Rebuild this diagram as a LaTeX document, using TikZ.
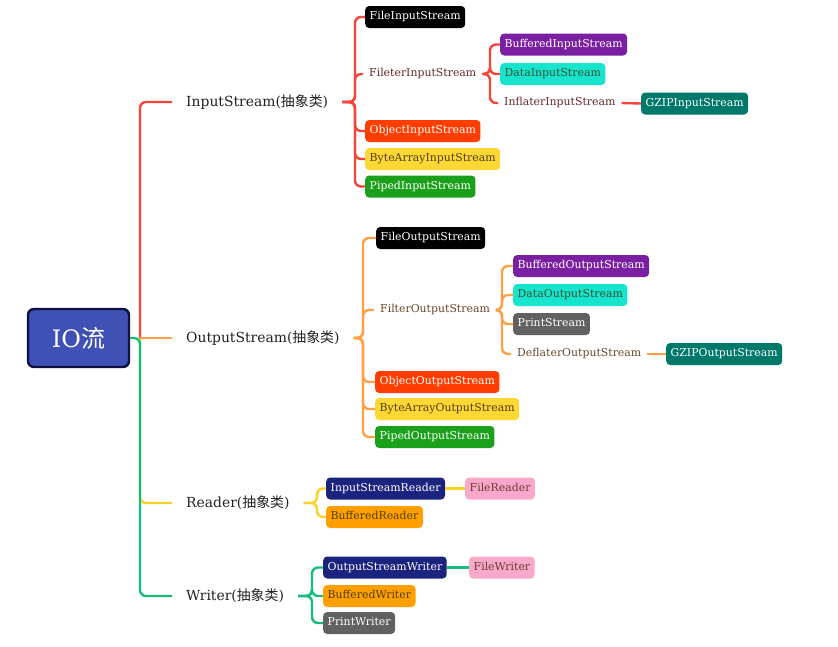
\documentclass[tikz,border=0pt]{standalone}
\usepackage{fontspec}
\setmainfont{DejaVu Serif}
\newfontfamily\cjk{Noto Sans CJK SC}
\usetikzlibrary{positioning}

\definecolor{RootFill}{RGB}{63, 81, 181}
\definecolor{RootLine}{RGB}{13, 17, 64}
\definecolor{InRed}{RGB}{245, 68, 58}
\definecolor{OutOrange}{RGB}{255, 160, 70}
\definecolor{ReadYellow}{RGB}{250, 210, 40}
\definecolor{WriteGreen}{RGB}{20, 190, 120}
\definecolor{ObjRed}{RGB}{255, 61, 0}
\definecolor{ByteYellow}{RGB}{253, 216, 53}
\definecolor{PipeGreen}{RGB}{26, 160, 26}
\definecolor{BufPurple}{RGB}{123, 31, 162}
\definecolor{DataTurq}{RGB}{22, 228, 205}
\definecolor{ZipTeal}{RGB}{0, 121, 107}
\definecolor{PrintGray}{RGB}{97, 97, 97}
\definecolor{CharNavy}{RGB}{26, 35, 126}
\definecolor{FilePink}{RGB}{248, 168, 200}
\definecolor{BufAmber}{RGB}{255, 160, 0}
\definecolor{TopicText}{RGB}{34, 34, 34}
\definecolor{InText}{RGB}{105, 40, 40}
\definecolor{OutText}{RGB}{105, 72, 40}
\definecolor{DarkText}{RGB}{80, 62, 20}

\newcommand{\boxfont}{\fontsize{10.9}{12}\selectfont}
\newcommand{\topicfont}{\fontsize{13.9}{16}\selectfont}
\newcommand{\abstractcls}{({\cjk 抽象类})}

\tikzset{
  stream/.style={fill=#1, rounded corners=4pt, anchor=west, inner xsep=4.5pt, inner ysep=0pt,
    minimum height=22pt, text height=8pt, text depth=2.5pt, font=\boxfont, text=white},
  plainname/.style={anchor=west, inner xsep=6pt, inner ysep=2pt, text height=8pt, text depth=2.5pt,
    font=\boxfont, text=#1},
  topic/.style={anchor=west, inner xsep=14pt, inner ysep=2pt, font=\topicfont, text=TopicText},
  branch/.style={line width=2.4pt, rounded corners=6pt, draw=#1}
}

\begin{document}
\begin{tikzpicture}[x=1pt, y=-1pt]
    \useasboundingbox (0,0) rectangle (838,646);

    % root
    \node[draw=RootLine, line width=2.4pt, fill=RootFill, rounded corners=6pt,
          minimum width=101pt, minimum height=58pt, text=white,
          font=\fontsize{24}{28}\selectfont] (root) at (78.5,338) {IO{\cjk 流}};
    \coordinate (trunk) at (140,338);

    % abstract classes
    \node[topic] (ins) at (172,102) {InputStream\abstractcls};
    \node[topic] (outs) at (172,338) {OutputStream\abstractcls};
    \node[topic] (rd) at (172,503) {Reader\abstractcls};
    \node[topic] (wr) at (172,596) {Writer\abstractcls};

    % InputStream
    \node[stream=black] (fis) at (365,17) {FileInputStream};
    \node[plainname=InText] (fltis) at (363,74) {FileterInputStream};
    \node[stream=ObjRed] (ois) at (365,131) {ObjectInputStream};
    \node[stream=ByteYellow, text=DarkText] (bais) at (365,159) {ByteArrayInputStream};
    \node[stream=PipeGreen] (pis) at (365,186.5) {PipedInputStream};

    \node[stream=BufPurple] (bis) at (500,44.5) {BufferedInputStream};
    \node[stream=DataTurq, text=DarkText!70!teal] (dis) at (500,74) {DataInputStream};
    \node[plainname=InText] (iis) at (498,103) {InflaterInputStream};
    \node[stream=ZipTeal] (gzis) at (641,103.5) {GZIPInputStream};

    % OutputStream
    \node[stream=black] (fos) at (376,238) {FileOutputStream};
    \node[plainname=OutText] (fltos) at (374,310) {FilterOutputStream};
    \node[stream=ObjRed] (oos) at (375,382) {ObjectOutputStream};
    \node[stream=ByteYellow, text=DarkText] (baos) at (375,409) {ByteArrayOutputStream};
    \node[stream=PipeGreen] (pos) at (375,437) {PipedOutputStream};

    \node[stream=BufPurple] (bos) at (513,266) {BufferedOutputStream};
    \node[stream=DataTurq, text=DarkText!70!teal] (dos) at (513,295) {DataOutputStream};
    \node[stream=PrintGray] (ps) at (513,324) {PrintStream};
    \node[plainname=OutText] (dfos) at (511,354) {DeflaterOutputStream};
    \node[stream=ZipTeal] (gzos) at (666,354) {GZIPOutputStream};

    % Reader
    \node[stream=CharNavy] (isr) at (326,488.5) {InputStreamReader};
    \node[stream=FilePink, text=InText!80!gray] (fr) at (465,488.5) {FileReader};
    \node[stream=BufAmber, text=DarkText] (br) at (326,517) {BufferedReader};

    % Writer
    \node[stream=CharNavy] (osw) at (323,567.5) {OutputStreamWriter};
    \node[stream=FilePink, text=InText!80!gray] (fw) at (469,567.5) {FileWriter};
    \node[stream=BufAmber, text=DarkText] (bw) at (323,596) {BufferedWriter};
    \node[stream=PrintGray] (pw) at (323,623) {PrintWriter};

    % trunk
    \draw[branch=ReadYellow] (trunk) |- (rd.west);
    \draw[branch=WriteGreen] (root.east) -- (trunk) |- (wr.west);
    \draw[branch=InRed] (trunk) |- (ins.west);
    \draw[branch=OutOrange] (trunk) -- (outs.west);

    % branches
    \coordinate (insv) at (355,102);
    \coordinate (fltisv) at (490,74);
    \coordinate (outsv) at (363,338);
    \coordinate (fltosv) at (502,310);
    \coordinate (rdv) at (317,503);
    \coordinate (wrv) at (312,596);

    \foreach \c in {fis,fltis,ois,bais,pis}
        \draw[branch=InRed] (ins.east) -- (insv) |- (\c.west);
    \foreach \c in {bis,dis,iis}
        \draw[branch=InRed] (fltis.east) -- (fltisv) |- (\c.west);
    \draw[branch=InRed] (iis.east) -- (gzis.west);

    \foreach \c in {fos,fltos,oos,baos,pos}
        \draw[branch=OutOrange] (outs.east) -- (outsv) |- (\c.west);
    \foreach \c in {bos,dos,ps,dfos}
        \draw[branch=OutOrange] (fltos.east) -- (fltosv) |- (\c.west);
    \draw[branch=OutOrange] (dfos.east) -- (gzos.west);

    \foreach \c in {isr,br}
        \draw[branch=ReadYellow] (rd.east) -- (rdv) |- (\c.west);
    \draw[branch=ReadYellow] (isr.east) -- (fr.west);

    \foreach \c in {osw,bw,pw}
        \draw[branch=WriteGreen] (wr.east) -- (wrv) |- (\c.west);
    \draw[branch=WriteGreen] (osw.east) -- (fw.west);
\end{tikzpicture}
\end{document}
